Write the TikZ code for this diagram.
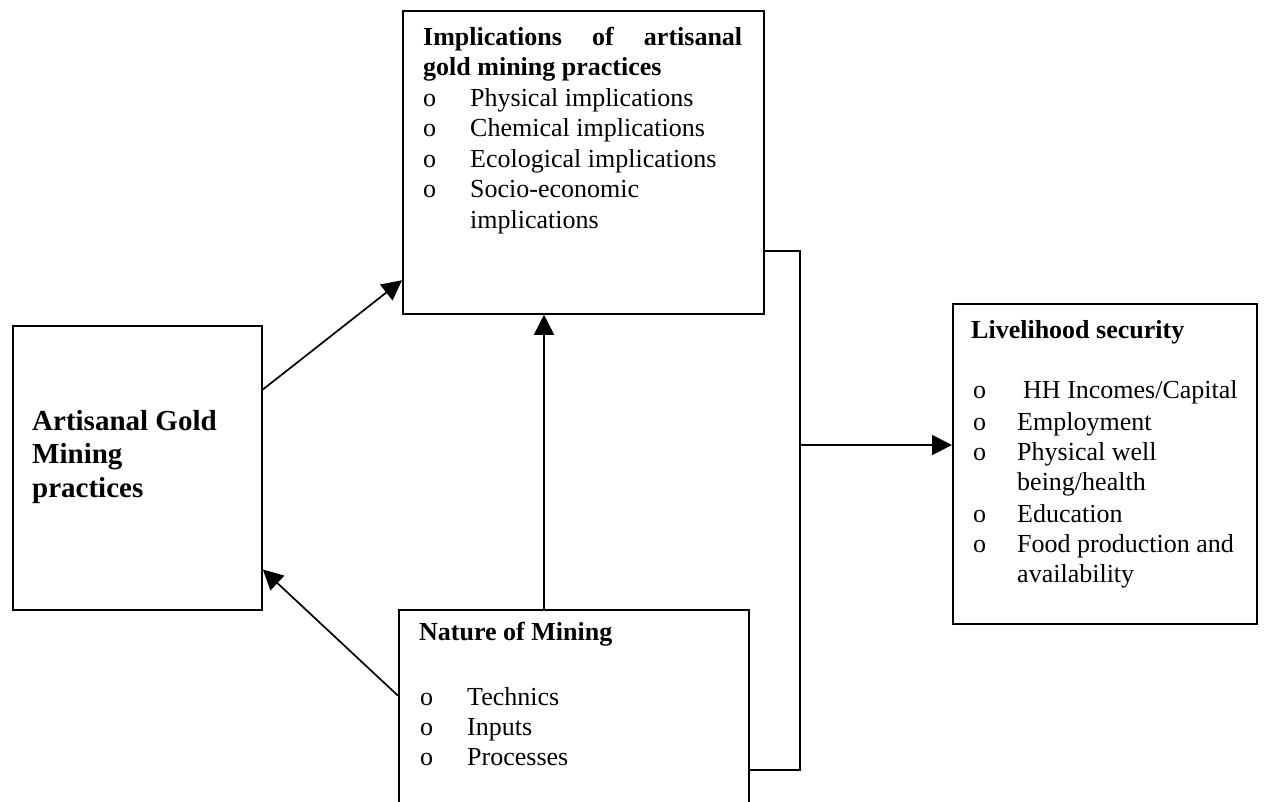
\documentclass[tikz,border=0pt]{standalone}
\usepackage{fontspec}
\setmainfont{Liberation Serif}
\usetikzlibrary{arrows.meta}
\tikzstyle{box}=[draw,line width=1.8pt,inner sep=0pt,anchor=north west]
\tikzstyle{txt}=[inner sep=0pt,anchor=base west,font=\fontsize{26}{30.5}\selectfont]
\tikzstyle{hd}=[txt,font=\fontsize{26}{30.5}\selectfont\bfseries]
\tikzstyle{big}=[txt,font=\fontsize{29}{33.5}\selectfont\bfseries]
\tikzstyle{lnk}=[line width=1.7pt]
\tikzstyle{arr}=[lnk,-{Triangle[length=20pt,width=20pt]}]
\newcommand\itm[2][47pt]{\makebox[#1][l]{o}#2}
\newcommand\cnt[2][47pt]{\makebox[#1][l]{}#2}

\begin{document}
\begin{tikzpicture}[x=1pt,y=-1pt]
  \useasboundingbox (0,0) rectangle (1288,801);
  \clip (0,0) rectangle (1288,801);
  % boxes
  \node[box,minimum width=361pt,minimum height=303pt] (impl) at (402,10) {};
  \node[box,minimum width=249pt,minimum height=284pt] (agm) at (12,325) {};
  \node[box,minimum width=350pt,minimum height=221pt] (nature) at (398,609) {};
  \node[box,minimum width=304pt,minimum height=320pt] (live) at (952,303) {};
  % texts
  \node[hd] (impl1) at (423,45) {\hbox to 319pt{Implications\hfill of\hfill artisanal}};
  \node[hd] (impl2) at (423,75.5) {gold mining practices};
  \foreach \y/\t [count=\k] in {106/{\itm{Physical implications}},
      136.5/{\itm{Chemical implications}}, 167/{\itm{Ecological implications}},
      197.5/{\itm{Socio-economic}}, 228/{\cnt{implications}}}
    {\node[txt] (imp\k) at (423,\y) {\t};}
  \foreach \y/\t [count=\k] in {430/Artisanal Gold, 463.5/Mining, 497/practices}
    {\node[big] (agm\k) at (32,\y) {\t};}
  \node[hd] (nat0) at (419,640) {Nature of Mining};
  \foreach \y/\t [count=\k] in {705/Technics, 735/Inputs, 765/Processes}
    {\node[txt] (nat\k) at (420,\y) {\itm{\t}};}
  \node[hd] (liv0) at (971,338) {Livelihood security};
  \foreach \y/\t [count=\k] in {398/{\itm[44pt]{\hspace{6pt}HH Incomes/Capital}},
      430/{\itm[44pt]{Employment}}, 460/{\itm[44pt]{Physical well}},
      490/{\cnt[44pt]{being/health}}, 522/{\itm[44pt]{Education}},
      552/{\itm[44pt]{Food production and}}, 582/{\cnt[44pt]{availability}}}
    {\node[txt] (liv\k) at (973,\y) {\t};}
  % connectors
  \coordinate (up) at (544,0);
  \coordinate (bt) at (800,251);
  \coordinate (bb) at (800,770);
  \coordinate (bus) at (800,445);
  \draw[arr] (agm.32.7) -- (impl.213.9);
  \draw[arr] (nature.172.7) -- (agm.321.2);
  \draw[arr] (nature.north -| up) -- (impl.south -| up);
  \draw[lnk] (impl.east |- bt) -- (bt) -- (bb) -- (nature.east |- bb);
  \draw[arr] (bus) -- (live.west |- bus);
\end{tikzpicture}
\end{document}
